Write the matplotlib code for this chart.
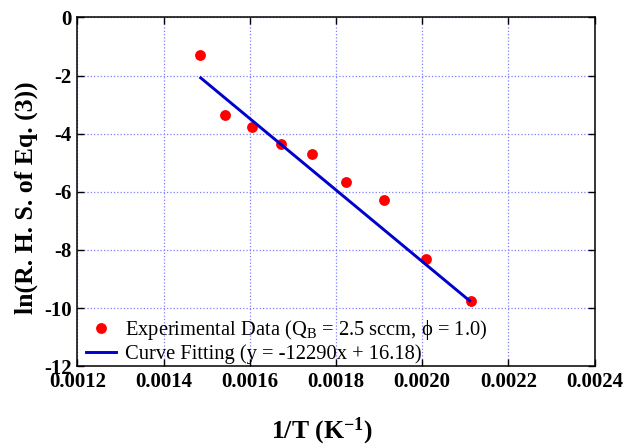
import numpy as np
import matplotlib
matplotlib.use("Agg")
import matplotlib.pyplot as plt

# values
inv_T = [0.001485, 0.001542, 0.001606, 0.001672, 0.001745, 0.001824, 0.001912, 0.002008, 0.002114]
ln_rhs = [-1.31, -3.37, -3.76, -4.34, -4.69, -5.68, -6.27, -8.31, -9.76]

fit_x = [0.001486, 0.00211]
fit_y = [-2.08, -9.75]

x_ticks = [0.0012, 0.0014, 0.0016, 0.0018, 0.0020, 0.0022, 0.0024]
y_ticks = [0, -2, -4, -6, -8, -10, -12]

data_label = r"Experimental Data (Q$\mathrm{_B}$ = 2.5 sccm, ϕ = 1.0)"
fit_label = "Curve Fitting (y = -12290x + 16.18)"

plt.rcParams['font.family'] = ['Liberation Serif', 'DejaVu Serif']
plt.rcParams['mathtext.fontset'] = 'custom'
plt.rcParams['mathtext.rm'] = 'Liberation Serif'
plt.rcParams['mathtext.bf'] = 'Liberation Serif:bold'
plt.rcParams['axes.unicode_minus'] = False

fig = plt.figure(figsize=(6.4, 4.46), dpi=100)
ax = fig.add_axes([0.121, 0.179, 0.808, 0.782])

ax.plot(inv_T, ln_rhs, 'o', color='#ff0000', ms=7.8, mec='none', label=data_label, zorder=3)
ax.plot(fit_x, fit_y, '-', color='#0000cc', lw=2.1, label=fit_label, zorder=4)

ax.set_xlim(0.0012, 0.0024)
ax.set_ylim(-12, 0)
ax.set_xticks(x_ticks)
ax.set_yticks(y_ticks)
ax.set_xticklabels([f"{v:.4f}" for v in x_ticks])
ax.set_yticklabels([str(v) for v in y_ticks])

ax.grid(True, color='#7f7fff', ls=':', lw=0.9)
ax.tick_params(direction='in', length=5, width=1, top=True, right=True,
               labelsize=15, pad=4)
for lab in ax.get_xticklabels() + ax.get_yticklabels():
    lab.set_fontweight('bold')
for sp in ax.spines.values():
    sp.set_linewidth(1.1)

ax.set_xlabel(r"1/T (K$\mathbf{^{-1}}$)", fontsize=18.5, fontweight='bold')
ax.xaxis.set_label_coords(0.472, -0.1865)
ax.xaxis.label.set_verticalalignment('center')

ax.set_ylabel("ln(R. H. S. of Eq. (3))", fontsize=18.5, fontweight='bold')
ax.yaxis.set_label_coords(-0.0996, 0.4835)
ax.yaxis.label.set_verticalalignment('center')

ax.legend(loc='lower left', bbox_to_anchor=(0.0, -0.018), frameon=False,
          fontsize=14.8, handlelength=1.5, handletextpad=0.4, labelspacing=0.12,
          borderaxespad=0.2, borderpad=0.2, numpoints=1)

fig.savefig("out.png", dpi=100)
